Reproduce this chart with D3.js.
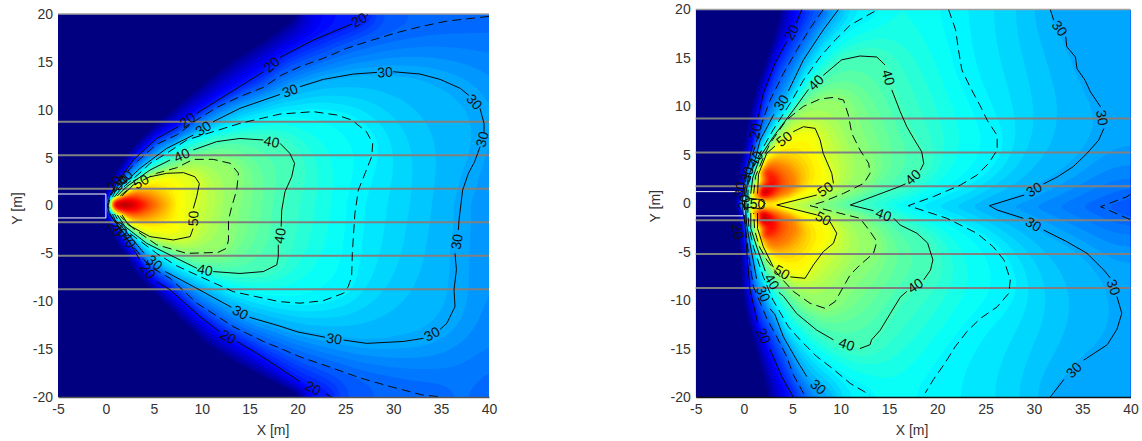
<!DOCTYPE html>
<html>
<head>
<meta charset="utf-8">
<script src="https://cdn.jsdelivr.net/npm/d3@7"></script>
<style>
html, body { margin: 0; padding: 0; background: #fff; }
svg { display: block; }
text { font-family: "Liberation Sans", Arial, sans-serif; }
</style>
</head>
<body>
<div id="app"></div>
<script>
const xTicks = [-5, 0, 5, 10, 15, 20, 25, 30, 35, 40];
const yTicks = [-20, -15, -10, -5, 0, 5, 10, 15, 20];
const laneEdges = [8.75, 5.25, 1.75, -1.75, -5.25, -8.75];
const vehicle = [[-5, 1.2], [0, 1.2], [0, -1.3], [-5, -1.3]];

// left panel: iso lines, null = gap holding a label
const leftLevel20 = [[27.4,20],[27.2,19.8],null,[25.66,18.95],[21.66,17.28],[18.18,15.47],null,[16.44,13.97],[13.3,12],[9.48,9.62],null,[7.56,8.23],[5.3,7],[2.86,4.75],[1.1,2.3],[.4,1],[.15,0],[.4,-1],[1.82,-2.8],[3.56,-5.7],null,[5.3,-7.95],[6.7,-8.8],[9.82,-11.6],[11.9,-13.2],null,[13.65,-14.2],[15.7,-15.4],[18.18,-17],[20.27,-18.4],null,[23,-19.7],[23.6,-20]];
const leftLevel25 = [[40,19.75],[35.6,19.26],[32.8,18.67],[30.36,18.05],[27.58,17.2],[25.14,16.41],[22.7,15.37],[20.27,14.5],[18.3,13.6],[16.44,12.34],[14,11.37],[11.57,10.25],[9.48,8.93],[7.39,7.37],[5.3,6.4],[2.86,4.23],[1.2,2.3],[.45,.9],[.25,0],[.45,-.9],[1.5,-2.6],[2.86,-4.3],[4.6,-6.4],[6.7,-7.6],[9.5,-10.2],[13.3,-12.65],[16.44,-14.2],[18.18,-14.9],[20.27,-15.8],[23.75,-17],[26.5,-18],[29.66,-18.9],[33.1,-19.8],[35.2,-20]];
const leftLevel30 = [[.7,.9],[.95,1.44],[3.56,3.88],[6.35,5.97],[9.13,7.36],null,[11.2,8.75],[14,10.15],[18.18,11.6],null,[20.27,12.41],[22.7,13.17],[25.84,13.73],[28.3,13.9],null,[30,13.97],[32.8,13.73],[34.9,13.17],[37,12.23],[37.9,11.5],null,[39.06,10.15],[39.48,8.58],[39.48,7.7],null,[39.07,6.14],[38.5,4.58],[37.85,3.36],[37.25,1.62],[36.87,-1.51],[36.8,-2.56],null,[36.45,-5],[36.6,-6.7],[36.35,-8.8],[36.45,-10.56],[35.6,-12.3],[34.9,-12.93],null,[33.15,-13.87],[31.06,-14.2],[27.23,-14.4],[24.8,-14.05],null,[22.88,-13.76],[20,-13.2],[18.1,-12.58],[15,-11.68],null,[13.1,-10.63],[9.48,-8.65],[6.2,-6.9],null,[4,-5],[1.82,-2.38],[.95,-1.51],[.7,-.9]];
const leftLevel35 = [[.9,.9],[1.47,1.6],[3.9,3.7],[4.6,4.4],[6.35,5.45],[8.43,6.84],[11.2,7.71],[14,8.58],[18.18,9.55],[21.66,9.8],[24.1,9.45],[25.66,8.93],[27.2,7.71],[27.86,6.49],[27.75,5.1],[27.06,3.36],[26.36,1.62],[26,-.82],[25.84,-3.25],[25.73,-5],[25.66,-7.43],[25.3,-8.48],[24.8,-9.17],[22.7,-9.94],[20.27,-10.2],[18.1,-10.04],[13.3,-9],[9.48,-7.26],[7.39,-6.3],[5.3,-5],[2.5,-2.9],[1.2,-1.4],[.9,-.9]];
const leftLevel40 = [[1.2,1],[2.17,1.97],[4.6,3.7],[6.7,4.75],null,[9.13,5.8],[11.57,6.67],[14,7],[16.44,6.84],null,[18.18,6.49],[19.2,5.45],[19.7,4.4],[19.4,3],[18.7,1.44],[18.36,-.47],[18.3,-2.2],null,[18,-4.1],[18,-5.35],[17.84,-6.2],[16.44,-6.9],[14,-7.1],[11.2,-6.9],null,[9.5,-6.56],[6.7,-5.17],[4.26,-3.95],[2,-2.2],[1.2,-1]];
const leftLevel45 = [[1.5,1],[2.86,2.14],[5.3,3.36],[7.4,3.95],[9.13,4.82],[11.2,4.82],[13,4.4],[13.84,3.36],[13.66,1.62],[13.14,-.12],[12.8,-1.5],[12.8,-3.6],[12.6,-4.47],[11.7,-4.9],[8.44,-5],[5.3,-4.1],[2.86,-2.4],[1.5,-1.1]];
const leftLevel50 = [[1.7,1],[2.7,1.97],null,[4.6,3],[6.35,3.36],[8.1,3.43],[9.3,3],[9.76,2.3],[9.48,.92],[9.13,-.3],null,[9.1,-2.4],[8.8,-3.25],[7.05,-3.6],[4.6,-3.25],[2.34,-2.03],[1.7,-1]];
const leftApexLabels = [[30,1.5,2.4,-50],[20,.9,2.3,-55],[40,2,2.9,-45],[30,1.5,-2.5,55],[20,1,-2.4,60],[40,2.4,-3.6,60]];

// colour only guides for the left surface: [x, y, value]
const leftOuter = [[20,20],[16.8,17.6],[13.3,15.5],[8.4,11.4],[5.5,8.8],[3,6.3],[1.5,4],[.2,1.5],[-.1,1],[-.2,0],[-.1,-1],[.3,-2],[3,-7],[6,-10.2],[10.5,-14.7],[13.3,-16.5],[15.4,-17.6],[18.1,-18.9],[20.3,-20]];
const leftAxisRun = [[.5,0,76],[2.5,0,76],[3.9,0,69.5],[5.6,0,61],[7.6,0,53],[9.2,0,50.3],[13.1,0,45],[18.36,0,40],[26,0,35],[36.85,0,30],[40,0,28]];
const leftRedge = [[40,19.75,25],[40,15,27.5],[40,10,29.3],[40,6,29],[40,0,28],[40,-10,28],[40,-15,27],[40,-20,25]];
const leftHot52 = [[1.4,.9],[3,2.1],[5,2.6],[7,2.7],[8,1.8],[7.6,0],[8,-1.8],[7,-2.8],[5,-2.7],[3,-2.1],[1.4,-.9]];
const leftHot61 = [[1,.6],[3,1.3],[4.5,1],[5.6,0],[4.5,-1],[3,-1.3],[1,-.6]];
const leftHot70 = [[.7,.35],[2,.7],[3,.5],[3.9,0],[3,-.5],[2,-.7],[.7,-.35]];

// right panel
const rightLevel20 = [[5.98,20],[5.4,18.6],null,[4.42,16.67],[3.2,14.44],[2,11.35],[1.49,8.9],null,[.9,6],[.35,3.78],[0,2.4],[-.14,.33],[-.1,-1],[.1,-2.07],[.2,-3.8],[.35,-5.85],[.62,-8.95],[1.4,-12.3],null,[2.7,-15.1],[3.9,-17.9],[5.1,-20]];
const rightLevel25a = [[8.2,20],[6.84,18.05],[5.46,15.8],[4.08,13.4],[2.7,10.65],[1.83,8.25],[1.14,5.84],[.45,3.78],[.1,2.05],[.05,.6],[.05,-1],[.15,-2.4],[.45,-5.17],[.97,-8.6],[2.4,-12],[3.4,-13.8],[4.4,-15.8],[5.1,-17.7],[6.15,-19.6],[6.4,-20]];
const rightLevel25b = [[40,.95],[39.65,.68],[36.9,-.35],[39.65,-1.55],[40,-1.7]];
const rightLevel30a = [[9.78,20],[8.2,17.9],[6.15,14.8],[4.6,11.6],null,[3.1,9.2],[1.66,6.5],[1.14,4.46],[.45,2.74],[.2,1],[.2,-1.2],[.3,-2.4],[.62,-4.14],[1.3,-7.8],null,[2.7,-10.9],[3.2,-11.5],[4.08,-13.8],[5.46,-16.2],[6.5,-17.9],null,[8.9,-20]];
const rightLevel30b = [[31.7,20],[32.05,18.9],null,[33.3,17.2],[33.4,16.17],[34.3,15.1],[34.46,13.9],[35.3,12.7],[35.85,11.5],[36.9,9.95],null,[37.25,7.73],[36.7,6.5],[35.5,5.15],[34.1,3.8],[32.4,2.7],[31,2],null,[29,.85],[25.4,-.25],[26.2,-.7],[28.9,-1.55],null,[31,-2.76],[33.4,-3.96],[35.5,-5.17],[37.25,-6.9],[37.9,-7.7],null,[38.6,-9.64],[39.1,-11.36],[38.6,-13],[37.6,-14.6],[35.15,-16.2],null,[33.1,-18.2],[31.7,-20]];
const rightLevel35a = [[13.5,19.8],[11,18.4],[9.26,16.67],[7.88,15.1],[6.15,12.7],[4.77,10.3],[3,7.55],[1.83,5.5],[.97,3.77],[.45,2],[.4,.8],[.4,-1],[.5,-2.4],[1,-4.6],[2,-7.6],[3,-10],[4.6,-12.75],[5.8,-14.1],[7.5,-15.8],[9.08,-17],[11,-18.6],[13.05,-19.8]];
const rightLevel35b = [[21.17,20],[21.9,17.9],[22.2,15.8],[22.55,13.75],[23.4,12],[24.5,9.95],[25.15,8.6],[26.2,7],[26.2,5.5],[25.3,4.1],[24.1,2.9],[22.4,1.88],[19.6,.68],[17,-.25],[18.6,-.77],[21,-1.55],[21.7,-1.9],[24.1,-3.1],[25.8,-4.5],[26.9,-5.85],[27.56,-7.9],[27.4,-9.3],[26.2,-10.7],[24.45,-11.9],[23.07,-13.25],[21.86,-14.8],[20.8,-16.5],[19.6,-18.2],[18.75,-19.6]];
const rightLevel40 = [[.7,1],[.9,2.6],[1.66,4.8],[3.04,6.87],[5.1,9.6],[6.67,11.75],null,[8.2,13.2],[10.1,14.8],[12,15.2],[13.75,15.1],[14.6,14.27],null,[15.3,11.7],[16.17,9.45],[16.85,7.9],[17.55,6.7],[18.4,5.3],[18.6,4.1],[18.24,3.4],null,[16.7,2],[16.17,1.75],[11,-.18],[13.4,-.77],null,[15.5,-1.55],[16.17,-2.25],[17.9,-3.1],[19,-4.1],[19.55,-5.85],[19.3,-6.9],[18.6,-7.9],null,[16.85,-9.1],[16.17,-9.7],[15.13,-11.4],[14.1,-13.1],[13.2,-14.1],[13.05,-14.6],[12,-15],null,[9.26,-14.1],[7.53,-13.1],[5.46,-11.4],[4.08,-9.6],[3.6,-9.2],null,[2.2,-7],[1.35,-4.6],[.7,-2.6],[.7,-1]];
const rightLevel45 = [[1,1],[1.2,2.8],[2,4.7],[2.7,6.18],[4.4,8.6],[6.15,10],[7.88,10.76],[9.26,10.93],[10.3,10.65],[10.8,9.1],[11.16,7.2],[12,5.5],[12.9,4.12],[13.05,3.1],[12.4,2.05],[10.3,1.02],[8.2,.16],[6.84,-.25],[9.26,-.87],[12,-1.55],[13.06,-2.93],[13.75,-3.96],[13.4,-5.17],[12,-6.37],[10.98,-7.4],[10.1,-8.95],[9.43,-10.15],[8.4,-10.85],[6.84,-10.33],[5.1,-9.1],[3.73,-7.6],[2.35,-5.85],[1.6,-4.5],[1.1,-2.8],[1,-1]];
const rightLevel50a = [[1.4,1],[1.5,3],[2.35,5.15],[3.2,5.9],null,[5.1,7.39],[6.15,7.9],[7.36,7.73],[7.88,6.53],[8.2,5.15],[9.08,3.1],[9.26,2.05],null,[7.53,.85],[3.39,-.18],[5.8,-.77],[7.53,-1.2],null,[8.9,-1.9],[9.6,-3.1],[9.26,-4.13],[8.2,-5],[7.18,-6.37],[6.32,-7.75],[4.8,-7.6],null,[3.04,-6.6],[2,-4.5],[1.4,-2.6],[1.4,-1]];
const rightLevel50b = [[-.2,.2],[.6,.5],[1.6,.4],[2.2,0],[1.7,-.6],[.8,-.4],[0,-.5],[-.2,.2]];
const rightApexLabels = [[20,-.6,-2.9,80],[30,-.4,1.4,-80],[50,1.4,-.1,0],[20,0,.1,-80],[40,1.2,4.6,-60],[30,.3,3,-70]];

const rightOuter = [[3.7,20],[2.4,15],[.8,10],[-.2,5],[-.5,0],[-.2,-5],[0,-10],[1.2,-15],[2.4,-20]];
const rightAxisRun = [[2.4,-.1,52],[3.39,-.18,50],[6.84,-.25,45],[11,-.18,40],[17,-.25,35],[25.4,-.25,30],[36.9,-.35,25],[40,-.35,24]];
const rightRedge = [[40,20,27],[40,10,28.2],[40,4,27],[40,.95,25],[40,-.35,24],[40,-1.7,25],[40,-5,27],[40,-11,29.5],[40,-20,27]];
const rightHot52a = [[1.6,4.6],[3.4,5.8],[5.3,6.9],[6.2,7.3],[7.2,7.1],[7.6,5.7],[8.2,4],[8.6,2.5],[7.5,1.3],[5,.55],[3.6,.1]];
const rightHot61a = [[1.1,4],[2,4.3],[3.5,4.1],[4.8,3.2],[5.3,2],[4.6,1.1],[2.8,.5],[1.5,.4]];
const rightHot70a = [[.7,3.2],[1.6,3.6],[2.6,3],[3.2,2],[2.8,1],[1.6,.55],[.6,.6]];
const rightHot76a = [[.7,1.4],[1.4,1.7],[2.4,1.3],[1.9,.85],[.9,.8],[.7,1.4]];
const rightHot52b = [[1.9,-4.4],[3,-6],[4.8,-7.2],[6.3,-7.4],[7,-6],[8,-4.8],[9,-3.3],[8.7,-2.2],[7.5,-1.5],[5,-.7],[3.6,-.25]];
const rightHot61b = [[1.1,-3.8],[2,-4.4],[3.3,-4.5],[4.5,-3.8],[5.4,-2.6],[4.8,-1.4],[3,-.7],[1.5,-.6]];
const rightHot70b = [[.7,-3.2],[1.5,-3.6],[2.5,-3],[3.2,-2.2],[2.8,-1.2],[1.6,-.7],[.6,-.8]];
const rightHot76b = [[.7,-1.6],[1.4,-1.9],[2.3,-1.5],[1.9,-1],[.9,-.95],[.7,-1.6]];

const panels = [
	{
		box: [58, 489, 14, 397],
		drawn: [[20, leftLevel20], [25, leftLevel25], [30, leftLevel30], [35, leftLevel35], [40, leftLevel40], [45, leftLevel45], [50, leftLevel50]],
		guides: [[10, leftOuter], [0, leftAxisRun], [0, leftRedge], [52, leftHot52], [61, leftHot61], [69.5, leftHot70]],
		apexLabels: leftApexLabels,
		axisColor: '#555',
		xLabelAt: 273,
		yLabelAt: 17
	},
	{
		box: [695.7, 1130.5, 9.5, 397],
		drawn: [[20, rightLevel20], [25, rightLevel25a], [25, rightLevel25b], [30, rightLevel30a], [30, rightLevel30b], [35, rightLevel35a], [35, rightLevel35b], [40, rightLevel40], [45, rightLevel45], [50, rightLevel50a], [50, rightLevel50b]],
		guides: [[10, rightOuter], [0, rightAxisRun], [0, rightRedge], [52, rightHot52a], [61, rightHot61a], [69.5, rightHot70a], [76, rightHot76a], [52, rightHot52b], [61, rightHot61b], [69.5, rightHot70b], [76, rightHot76b]],
		apexLabels: rightApexLabels,
		axisColor: '#111',
		xLabelAt: 912,
		yLabelAt: 655
	}
];

// jet, 64 steps
const colorMin = 10;
const colorMax = 78;
const bandCount = 64;
const bandWidth = (colorMax - colorMin) / bandCount;
const jet = d3.scaleLinear()
	.domain([0, 0.125, 0.375, 0.625, 0.875, 1].map((t) => colorMin + t * (colorMax - colorMin)))
	.range(['#000080', '#0000ff', '#00ffff', '#ffff00', '#ff0000', '#800000']);

const cell = 2; // surface resolution in px

const svg = d3.select('#app').append('svg').attr('width', 1142).attr('height', 441).attr('viewBox', [0, 0, 1142, 441]);

// fill the surface between the read lines by relaxing, read lines stay fixed
function buildSurface(x, y, lines) {
	const [x0, x1] = x.range();
	const [y1, y0] = y.range();
	const nx = Math.round((x1 - x0) / cell);
	const ny = Math.round((y1 - y0) / cell);
	const u = new Float64Array(nx * ny).fill(25);
	const fixed = new Uint8Array(nx * ny);

	lines.forEach(([level, path]) => {
		const pts = path.filter(Boolean);
		for (let s = 0; s < pts.length - 1; s++) {
			const a = pts[s];
			const b = pts[s + 1];
			const ax = (x(a[0]) - x0) / cell;
			const ay = (y(a[1]) - y0) / cell;
			const bx = (x(b[0]) - x0) / cell;
			const by = (y(b[1]) - y0) / cell;
			const steps = Math.ceil(Math.max(Math.abs(bx - ax), Math.abs(by - ay)) * 2) + 1;
			for (let t = 0; t <= steps; t++) {
				const f = t / steps;
				const i = Math.floor(ax + (bx - ax) * f);
				const j = Math.floor(ay + (by - ay) * f);
				if (i < 0 || j < 0 || i >= nx || j >= ny) continue;
				const va = a.length > 2 ? a[2] : level;
				const vb = b.length > 2 ? b[2] : level;
				u[j * nx + i] = va + (vb - va) * f;
				fixed[j * nx + i] = 1;
			}
		}
	});

	for (let it = 0; it < 900; it++) {
		for (let j = 0; j < ny; j++) {
			for (let i = 0; i < nx; i++) {
				const k = j * nx + i;
				if (fixed[k]) continue;
				const l = i > 0 ? u[k - 1] : u[k + 1];
				const r = i < nx - 1 ? u[k + 1] : u[k - 1];
				const t = j > 0 ? u[k - nx] : u[k + nx];
				const b = j < ny - 1 ? u[k + nx] : u[k - nx];
				u[k] += 1.9 * ((l + r + t + b) / 4 - u[k]);
			}
		}
	}
	const data = Array.from(u);
	d3.blur2({ data, width: nx, height: ny }, 1);
	return { data, nx, ny };
}

panels.forEach((p, idx) => {
	const [x0, x1, y0, y1] = p.box;
	const x = d3.scaleLinear().domain([-5, 40]).range([x0, x1]);
	const y = d3.scaleLinear().domain([-20, 20]).range([y1, y0]);
	const g = svg.append('g').attr('class', 'panel');

	svg.append('clipPath').attr('id', `clip${idx}`).append('rect')
		.attr('x', x0).attr('y', y0).attr('width', x1 - x0).attr('height', y1 - y0);

	// heat surface
	const { data, nx, ny } = buildSurface(x, y, p.guides.concat(p.drawn));
	const thresholds = d3.range(1, bandCount).map((i) => colorMin + i * bandWidth);
	const bands = d3.contours().size([nx, ny]).thresholds(thresholds)(data);
	const path = d3.geoPath(d3.geoIdentity().scale((x1 - x0) / nx).translate([x0, y0]));
	const heat = g.append('g').attr('clip-path', `url(#clip${idx})`);
	heat.append('rect').attr('x', x0).attr('y', y0).attr('width', x1 - x0).attr('height', y1 - y0).attr('fill', jet(colorMin));
	heat.selectAll('path').data(bands).join('path')
		.attr('d', path)
		.attr('fill', (d) => jet(d.value + bandWidth / 2));

	// vehicle outline
	g.append('path')
		.attr('d', d3.line().x((d) => x(d[0])).y((d) => y(d[1]))(vehicle))
		.attr('fill', 'none').attr('stroke', '#fff').attr('stroke-width', 1);

	// lane edges
	g.selectAll('line.lane').data(laneEdges).join('line').attr('class', 'lane')
		.attr('x1', x0).attr('x2', x1)
		.attr('y1', (d) => y(d)).attr('y2', (d) => y(d))
		.attr('stroke', '#808080').attr('stroke-width', 2);
	g.append('line').attr('x1', x0).attr('x2', x1).attr('y1', y0).attr('y2', y0)
		.attr('stroke', '#a0a0a0').attr('stroke-width', 1.5);

	// iso lines
	const line = d3.line().defined((d) => d !== null).x((d) => x(d[0])).y((d) => y(d[1]));
	const iso = g.append('g').attr('clip-path', `url(#clip${idx})`);
	iso.selectAll('path').data(p.drawn).join('path')
		.attr('d', (d) => line(d[1]))
		.attr('fill', 'none')
		.attr('stroke', '#0a0a0a')
		.attr('stroke-width', 1)
		.attr('stroke-dasharray', (d) => (d[0] % 10 ? '9,5' : null));

	// labels sit in the gaps of the iso lines
	const labels = [];
	p.drawn.forEach(([level, pts]) => {
		pts.forEach((pt, i) => {
			if (pt !== null) return;
			const a = pts[i - 1];
			const b = pts[i + 1];
			let angle = (Math.atan2(y(b[1]) - y(a[1]), x(b[0]) - x(a[0])) * 180) / Math.PI;
			if (angle > 90) angle -= 180;
			if (angle < -90) angle += 180;
			labels.push({ level, px: (x(a[0]) + x(b[0])) / 2, py: (y(a[1]) + y(b[1])) / 2, angle });
		});
	});
	p.apexLabels.forEach(([level, lx, ly, angle]) => labels.push({ level, px: x(lx), py: y(ly), angle }));
	g.append('g').selectAll('text').data(labels).join('text')
		.attr('transform', (d) => `translate(${d.px},${d.py}) rotate(${d.angle})`)
		.attr('text-anchor', 'middle')
		.attr('dominant-baseline', 'central')
		.attr('font-size', 14)
		.attr('fill', '#111')
		.text((d) => d.level);

	// axes
	const xAxis = g.append('g').attr('transform', `translate(0,${y1})`)
		.call(d3.axisBottom(x).tickValues(xTicks).tickFormat((d) => String(d)).tickSize(0).tickPadding(7));
	xAxis.select('.domain').attr('stroke', p.axisColor).attr('stroke-width', 1.5);
	const yAxis = g.append('g').attr('transform', `translate(${x0},0)`)
		.call(d3.axisLeft(y).tickValues(yTicks).tickFormat((d) => String(d)).tickSize(0).tickPadding(5));
	yAxis.select('.domain').remove();
	g.selectAll('.tick text').attr('font-size', 14).attr('font-family', '"Liberation Sans", Arial, sans-serif').attr('fill', '#333');

	g.append('text').attr('x', p.xLabelAt).attr('y', 435).attr('text-anchor', 'middle')
		.attr('font-size', 14).attr('fill', '#333').text('X [m]');
	g.append('text').attr('transform', `translate(${p.yLabelAt},${(y0 + y1) / 2 + 3}) rotate(-90)`).attr('text-anchor', 'middle')
		.attr('dominant-baseline', 'central').attr('font-size', 14).attr('fill', '#333').text('Y [m]');
});
</script>
</body>
</html>
